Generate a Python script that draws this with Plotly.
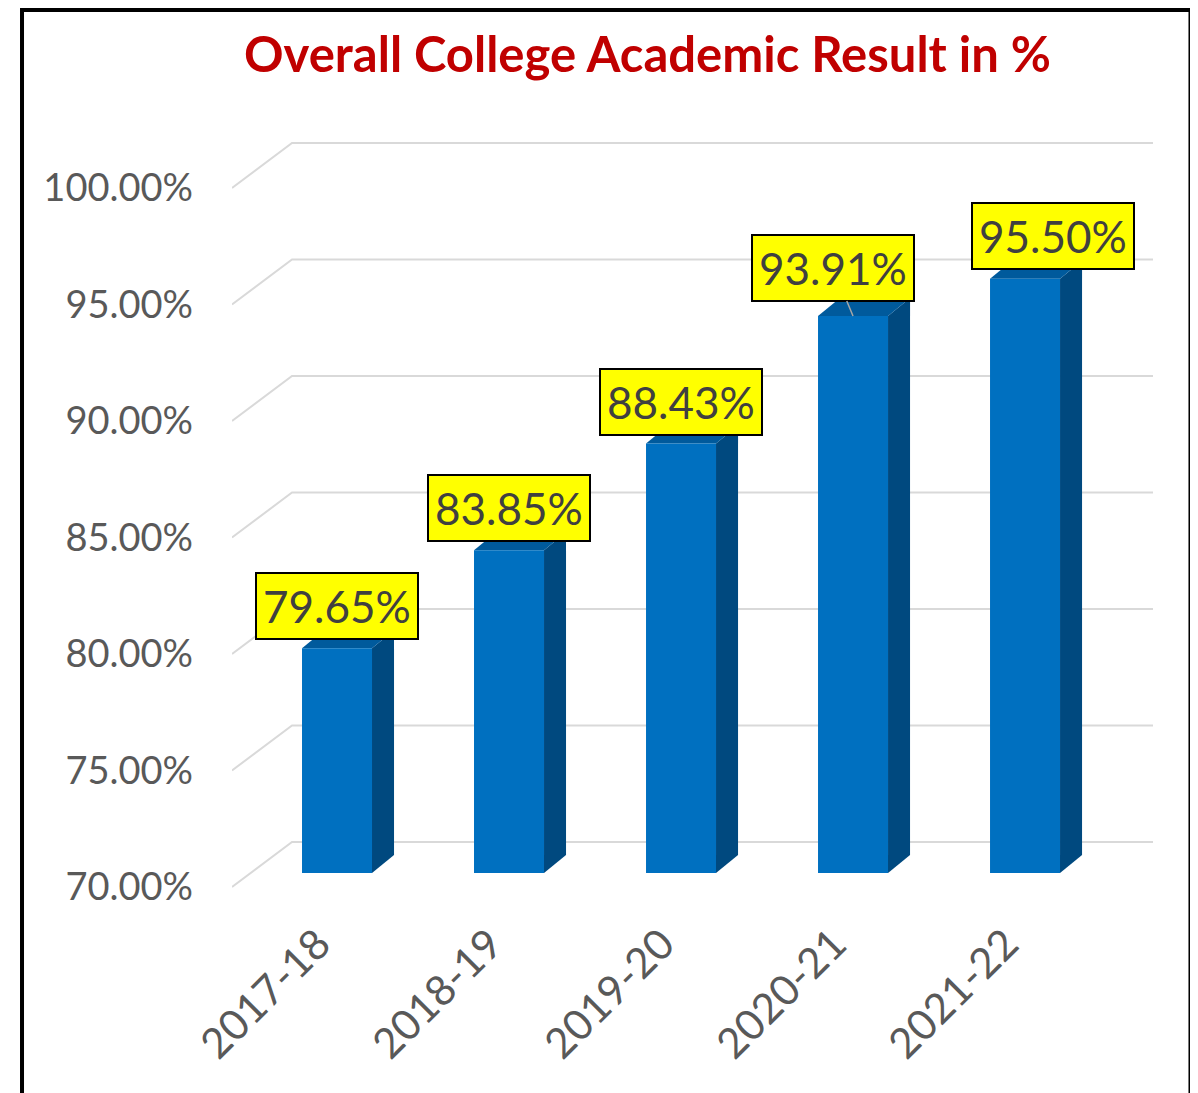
import plotly.graph_objects as go

# data
years = ['2017-18', '2018-19', '2019-20', '2020-21', '2021-22']
results = [79.65, 83.85, 88.43, 93.91, 95.50]
y_ticks = [70, 75, 80, 85, 90, 95, 100]
y_tick_text = ['70.00%', '75.00%', '80.00%', '85.00%', '90.00%', '95.00%', '100.00%']

# fake 3d geometry (axis units)
BASE = 70
BAR_W = 0.407
SIDE_DX = 0.128
SIDE_DY = 0.773
FRONT_DROP = 0.6     # grid line front end below bar plane
BACK_RISE = 1.33     # back wall above bar plane
FRONT_DX = -0.11     # category labels sit on the front edge of the floor
X_MIN, X_MAX = -0.6105, 4.744
X_BACK = -0.2616
Y_MIN, Y_MAX = 68.84, 101.89

FRONT = '#0070C0'
SIDE = '#00497F'
TOP = '#005A9C'
GRID = '#D9D9D9'


def poly(xs, ys, color):
    return go.Scatter(x=xs + xs[:1], y=ys + ys[:1], fill='toself', fillcolor=color,
                      mode='lines', line=dict(width=0, color=color),
                      hoverinfo='skip', showlegend=False)


fig = go.Figure()

# gridlines: diagonal floor part + back wall
for t in y_ticks:
    fig.add_trace(go.Scatter(
        x=[X_MIN, X_BACK, X_MAX],
        y=[t - FRONT_DROP, t + BACK_RISE, t + BACK_RISE],
        mode='lines', line=dict(color=GRID, width=2),
        hoverinfo='skip', showlegend=False))

xs = list(range(len(years)))

# bars: side, top, front
for i, v in zip(xs, results):
    r = i + BAR_W / 2
    l = i - BAR_W / 2
    fig.add_trace(poly([r, r + SIDE_DX, r + SIDE_DX, r],
                       [BASE, BASE + SIDE_DY, v + SIDE_DY, v], SIDE))
    fig.add_trace(poly([l, r, r + SIDE_DX, l + SIDE_DX],
                       [v, v, v + SIDE_DY, v + SIDE_DY], TOP))
    fig.add_trace(poly([l, r, r, l], [BASE, BASE, v, v], FRONT))

# data labels (yellow boxes)
label_shift = [(0, 8), (0, 8), (0, 8), (-20, 14), (28, 9)]
for i, v in enumerate(results):
    dx, dy = label_shift[i]
    common = dict(
        text=f'{v:.2f}%', font=dict(family='Lato', size=44, color='#404040'),
        bgcolor='#FFFF00', bordercolor='#000000', borderwidth=2, borderpad=6)
    if i == 3:
        fig.add_annotation(x=i, y=v, showarrow=True, arrowhead=0, arrowwidth=1.5,
                           arrowcolor='#A6A6A6', ax=dx, ay=-48, **common)
    else:
        fig.add_annotation(x=i, y=v, showarrow=False, yanchor='bottom',
                           xshift=dx, yshift=dy, **common)

# outer frame
fig.add_shape(type='rect', xref='paper', yref='paper',
              x0=-0.228, x1=1.0407, y0=-0.27, y1=1.1558,
              line=dict(color='black', width=4), fillcolor='rgba(0,0,0,0)')

fig.update_layout(
    width=1198, height=1093,
    margin=dict(l=224, r=53, t=122, b=201),
    plot_bgcolor='white', paper_bgcolor='white',
    title=dict(text='<b>Overall College Academic Result in %</b>',
               x=0.5338, xref='container', xanchor='center',
               y=0.957, yref='container', yanchor='middle',
               font=dict(family='Lato', size=49, color='#C00000')),
    xaxis=dict(range=[X_MIN, X_MAX], tickvals=[i + FRONT_DX for i in xs],
               ticktext=years, tickangle=-45, ticklabelstandoff=10,
               showgrid=False, zeroline=False, showline=False, ticks='',
               tickfont=dict(family='Lato', size=42, color='#595959')),
    yaxis=dict(range=[Y_MIN, Y_MAX], tickvals=[t - FRONT_DROP for t in y_ticks],
               ticktext=y_tick_text, showgrid=False, zeroline=False, showline=False,
               ticks='', ticklabelstandoff=38,
               tickfont=dict(family='Lato', size=38, color='#595959')),
)

fig.write_html('out.html')
